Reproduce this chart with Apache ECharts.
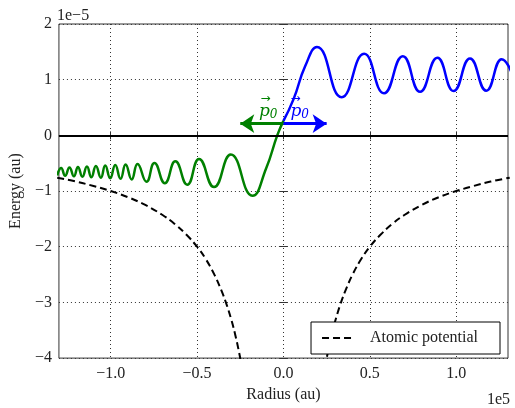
<!DOCTYPE html>
<html>
<head>
<meta charset="utf-8">
<script src="https://cdn.jsdelivr.net/npm/echarts@6/dist/echarts.min.js"></script>
<style>
  html, body { margin: 0; padding: 0; background: #fff; }
  #chart { width: 515px; height: 408px; }
</style>
</head>
<body>
<div id="chart"></div>
<script>
// x in units of 1e5 au, y in units of 1e-5 au
var xTicks = [-1.0, -0.5, 0.0, 0.5, 1.0];

// green wave (left of origin), extrema
var greenX = [-1.31, -1.287, -1.264, -1.239, -1.213, -1.190, -1.164, -1.138, -1.112, -1.086,
  -1.057, -1.032, -1.003, -0.974, -0.943, -0.914, -0.879, -0.845, -0.793, -0.747,
  -0.687, -0.626, -0.557, -0.489, -0.402, -0.305, -0.180, -0.100, -0.036, 0.0];
var greenY = [-0.72, -0.584, -0.726, -0.575, -0.735, -0.566, -0.743, -0.558, -0.752, -0.549,
  -0.761, -0.540, -0.770, -0.531, -0.779, -0.522, -0.791, -0.513, -0.832, -0.496,
  -0.858, -0.465, -0.885, -0.425, -0.929, -0.345, -1.085, -0.59, 0.0, 0.26];

// blue wave (right of origin)
var blueX = [0.0, 0.059, 0.126, 0.194, 0.337, 0.467, 0.582, 0.691, 0.791, 0.891, 0.985, 1.080, 1.174, 1.263, 1.355];
var blueY = [0.26, 0.655, 1.244, 1.588, 0.685, 1.464, 0.756, 1.421, 0.784, 1.393, 0.796, 1.381, 0.802, 1.368, 0.81];

// atomic potential, two branches
var potLeftX = [-1.31, -1.20, -1.10, -1.00, -0.90, -0.80, -0.70, -0.63, -0.56, -0.50, -0.45, -0.40, -0.36, -0.33, -0.30, -0.28, -0.26, -0.24];
var potLeftY = [-0.76, -0.83, -0.91, -1.00, -1.11, -1.25, -1.43, -1.59, -1.79, -2.00, -2.22, -2.50, -2.78, -3.03, -3.33, -3.57, -3.85, -4.17];
var potRightX = [0.24, 0.26, 0.28, 0.30, 0.33, 0.36, 0.40, 0.45, 0.50, 0.56, 0.63, 0.70, 0.80, 0.90, 1.00, 1.10, 1.20, 1.31];
var potRightY = [-4.17, -3.85, -3.57, -3.33, -3.03, -2.78, -2.50, -2.22, -2.00, -1.79, -1.59, -1.43, -1.25, -1.11, -1.00, -0.91, -0.83, -0.76];

// momentum arrows
var arrowY = 0.21;
var arrowLen = 0.25;

function pairs(xs, ys) {
  return xs.map(function (x, i) { return [x, ys[i]]; });
}

var font = 'Liberation Serif';
var txt = '#222';

var chart = echarts.init(document.getElementById('chart'));

function fmtMinus(s) { return s.charAt(0) === '-' ? '\u2212' + s.slice(1) : s; }

var p0Rich = {
  a: { fontFamily: 'DejaVu Sans', fontSize: 12, lineHeight: 5, padding: [0, 7, 0, 0] },
  p: { fontFamily: 'DejaVu Serif', fontStyle: 'italic', fontSize: 17, lineHeight: 17 },
  s: { fontFamily: 'DejaVu Serif', fontStyle: 'italic', fontSize: 12, padding: [7, 0, 0, 0] }
};
var p0Text = '{a|\u2192}\n{p|p}{s|0}';

var option = {
  animation: false,
  backgroundColor: '#fff',
  grid: { left: 57, right: 7, top: 24, bottom: 44, show: true, borderColor: '#333', borderWidth: 1 },
  legend: {
    data: [{ name: 'Atomic potential', itemStyle: { opacity: 0 } }],
    right: 15, bottom: 54,
    backgroundColor: '#fff', borderColor: '#000', borderWidth: 1, borderRadius: 0,
    padding: [8, 22, 8, 10],
    itemWidth: 30, itemHeight: 10,
    textStyle: { fontFamily: font, fontSize: 16, color: txt, padding: [0, 0, 0, 13] },
    z: 10
  },
  graphic: [
    { type: 'text', left: 57, top: 8, style: { text: '1e\u22125', fontFamily: font, fontSize: 16, fill: txt } },
    { type: 'text', right: 5, top: 392, style: { text: '1e5', fontFamily: font, fontSize: 16, fill: txt } }
  ],
  xAxis: [{
    type: 'value', min: -1.3, max: 1.3,
    name: 'Radius (au)', nameLocation: 'middle', nameGap: 27,
    nameTextStyle: { fontFamily: font, fontSize: 16, color: txt },
    axisLine: { show: false },
    axisTick: { inside: true, length: 4, customValues: xTicks, lineStyle: { color: '#333' } },
    axisLabel: { customValues: xTicks, margin: 8, fontFamily: font, fontSize: 16, color: txt,
      formatter: function (v) { return fmtMinus(v.toFixed(1)); } },
    splitLine: { show: true, lineStyle: { type: [1, 3], color: '#333', width: 1 } }
  }, {
    type: 'value', min: -1.3, max: 1.3, position: 'top',
    axisLine: { show: false }, axisLabel: { show: false }, splitLine: { show: false },
    axisTick: { inside: true, length: 4, customValues: xTicks, lineStyle: { color: '#333' } }
  }],
  yAxis: [{
    type: 'value', min: -4, max: 2, interval: 1,
    name: 'Energy (au)', nameLocation: 'middle', nameGap: 34, nameRotate: 90,
    nameTextStyle: { fontFamily: font, fontSize: 16, color: txt },
    axisLine: { show: false },
    axisTick: { inside: true, length: 4, lineStyle: { color: '#333' } },
    axisLabel: { margin: 7, fontFamily: font, fontSize: 16, color: txt,
      formatter: function (v) { return fmtMinus(String(v)); } },
    splitLine: { show: true, lineStyle: { type: [1, 3], color: '#333', width: 1 } }
  }, {
    type: 'value', min: -4, max: 2, interval: 1, position: 'right',
    axisLine: { show: false }, axisLabel: { show: false }, splitLine: { show: false },
    axisTick: { inside: true, length: 4, lineStyle: { color: '#333' } }
  }],
  series: [
    {
      name: 'Atomic potential', type: 'line', data: pairs(potLeftX, potLeftY),
      smooth: 0.4, symbol: 'none', color: '#000',
      lineStyle: { color: '#000', width: 2, type: [7, 4] },
      markLine: {
        silent: true, symbol: 'none', label: { show: false },
        data: [{ yAxis: 0, lineStyle: { color: '#000', width: 2, type: 'solid' } }]
      }
    },
    {
      name: 'Atomic potential', type: 'line', data: pairs(potRightX, potRightY),
      smooth: 0.4, symbol: 'none', color: '#000',
      lineStyle: { color: '#000', width: 2, type: [7, 4] }
    },
    {
      name: 'green', type: 'line', data: pairs(greenX, greenY),
      smooth: 0.5, symbol: 'none', color: '#008000',
      lineStyle: { color: '#008000', width: 2.5 },
      markLine: {
        silent: true, symbol: ['arrow', 'none'], symbolSize: 14,
        lineStyle: { color: '#008000', width: 3, type: 'solid' },
        label: { show: true, position: 'insideEndTop', distance: [6, 3], color: '#008000',
          formatter: p0Text, rich: p0Rich },
        data: [[{ coord: [-arrowLen, arrowY] }, { coord: [0, arrowY] }]]
      }
    },
    {
      name: 'blue', type: 'line', data: pairs(blueX, blueY),
      smooth: 0.5, symbol: 'none', color: '#0000ff',
      lineStyle: { color: '#0000ff', width: 2.5 },
      markLine: {
        silent: true, symbol: ['none', 'arrow'], symbolSize: 14,
        lineStyle: { color: '#0000ff', width: 3, type: 'solid' },
        label: { show: true, position: 'insideStartTop', distance: [7, 3], color: '#0000ff',
          formatter: p0Text, rich: p0Rich },
        data: [[{ coord: [0, arrowY] }, { coord: [arrowLen, arrowY] }]]
      }
    }
  ]
};

chart.setOption(option);
</script>
</body>
</html>
